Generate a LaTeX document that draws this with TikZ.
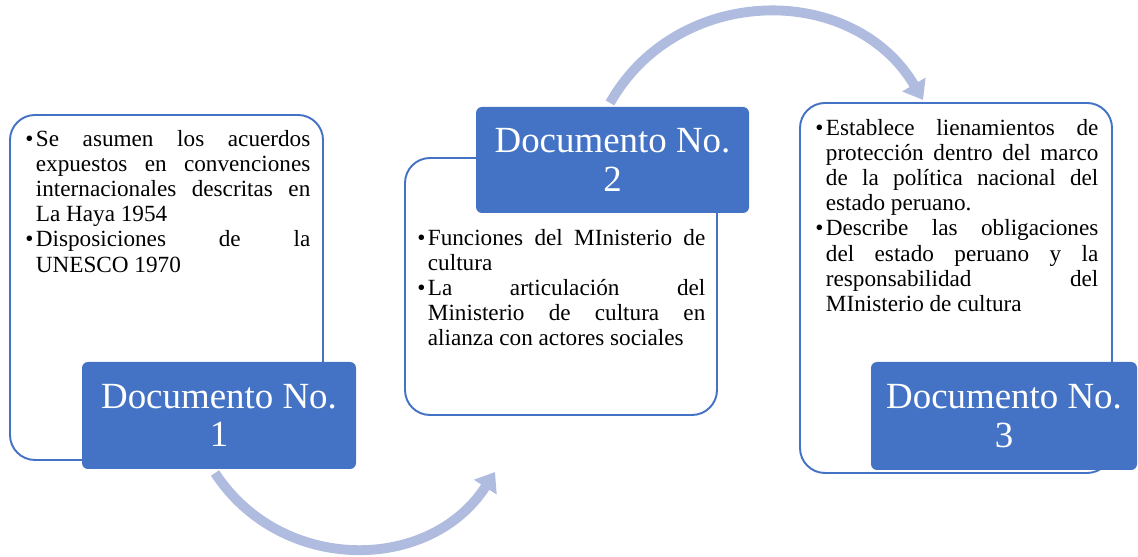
\documentclass[tikz,border=0pt]{standalone}
\usepackage{fontspec}
\setmainfont{Liberation Serif}
\usepackage{xcolor}
\usetikzlibrary{arrows.meta}

\definecolor{docblue}{HTML}{4472C4}
\definecolor{flowblue}{HTML}{AFBCDF}

\tolerance=10000
\hbadness=10000
\setlength{\parskip}{2.5pt}
\newcommand{\bitem}[1]{\par\noindent\hangindent=6pt\hangafter=1\makebox[6pt][l]{\textbullet}#1\par}

\begin{document}
\begin{tikzpicture}[
  panel/.style={draw=docblue,line width=1.1pt,fill=white,rounded corners=0.5cm},  docbox/.style={fill=docblue,text=white,rounded corners=0.12cm,align=center,font=\fontsize{21}{22}\selectfont},  bodytext/.style={anchor=north west,inner sep=0pt,align=justify,font=\fontsize{13.2}{14.3}\selectfont},  flow/.style={draw=flowblue,line width=5.6pt,-{Triangle[width=0.52cm,length=0.36cm]}}
]
  \useasboundingbox (0,0) rectangle (22.76,11.12);
  \coordinate (a1s) at (4.30,1.66);
  \coordinate (a1e) at (9.90,1.68);
  \coordinate (a2s) at (12.20,9.06);
  \coordinate (a2e) at (18.46,9.12);
  \draw[flow] (a1s) to[bend right=57,looseness=1.1] (a1e);
  \draw[flow] (a2s) to[bend left=60,looseness=1.12] (a2e);
  \node[panel,minimum width=6.26cm,minimum height=6.90cm] (p1) at (3.33,5.37) {};
  \node[panel,minimum width=6.24cm,minimum height=5.14cm] (p2) at (11.22,5.39) {};
  \node[panel,minimum width=6.24cm,minimum height=7.40cm] (p3) at (19.12,5.36) {};
  \node[docbox,minimum width=5.48cm,minimum height=2.14cm] (d1) at (4.38,2.81) {Documento No.\\1};
  \node[docbox,minimum width=5.46cm,minimum height=2.12cm] (d2) at (12.25,7.92) {Documento No.\\2};
  \node[docbox,minimum width=5.32cm,minimum height=2.16cm] (d3) at (20.08,2.80) {Documento No.\\3};
  \node[bodytext,text width=5.70cm] (t1) at (0.50,8.70) {%
    \bitem{Se asumen los acuerdos\linebreak expuestos en convenciones\linebreak internacionales descritas en\linebreak La Haya 1954}
    \bitem{Disposiciones de la\linebreak UNESCO 1970}};
  \node[bodytext,text width=5.76cm] (t2) at (8.34,6.72) {%
    \bitem{Funciones del MInisterio de\linebreak cultura}
    \bitem{La articulación del\linebreak Ministerio de cultura en\linebreak alianza con actores sociales}};
  \node[bodytext,text width=5.66cm] (t3) at (16.30,8.92) {%
    \bitem{Establece lienamientos de\linebreak protección dentro del marco\linebreak de la política nacional del\linebreak estado peruano.}
    \bitem{Describe las obligaciones\linebreak del estado peruano y la\linebreak responsabilidad del\linebreak MInisterio de cultura}};
\end{tikzpicture}
\end{document}
